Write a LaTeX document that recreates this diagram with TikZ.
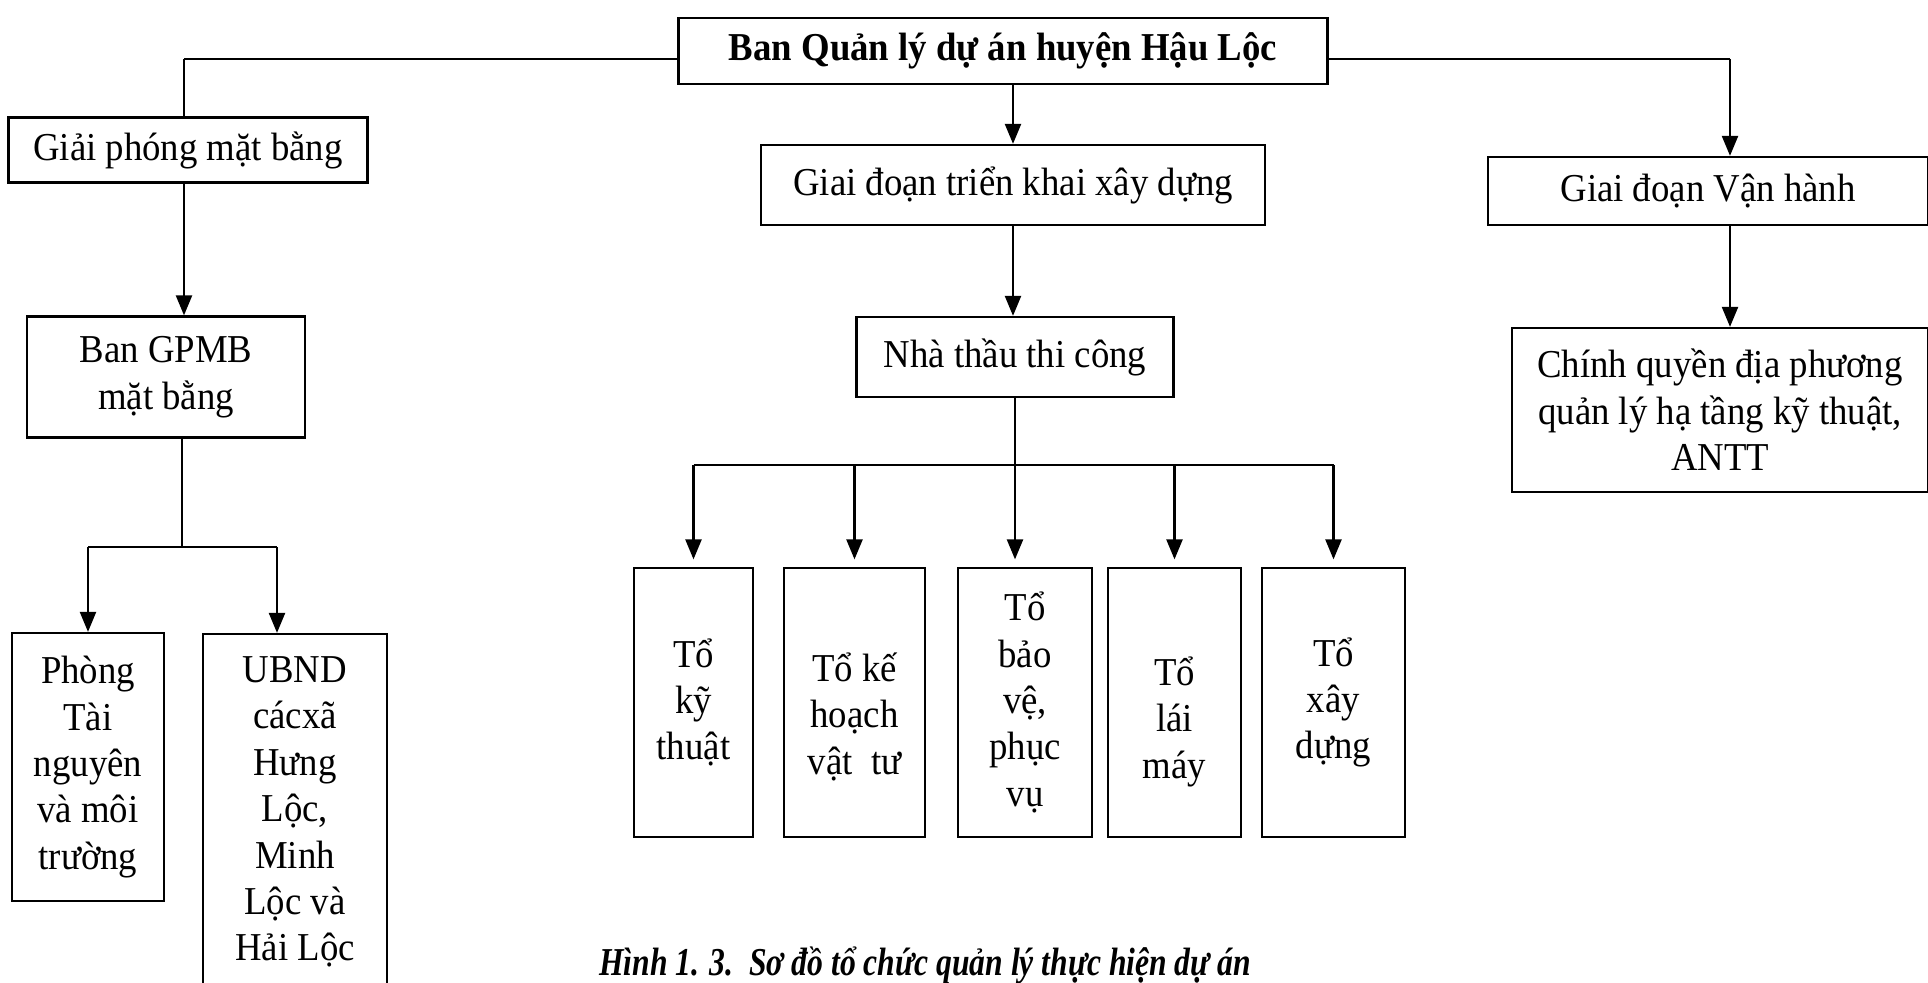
\documentclass[tikz,border=0pt]{standalone}
\usepackage{fontspec}
\setmainfont{Liberation Serif}[FakeStretch=0.93]
\newfontfamily\capfont{Liberation Serif}[FakeStretch=0.8]
\usepackage{tikz}
\usetikzlibrary{arrows.meta}

\begin{document}
\begin{tikzpicture}[x=0.02cm, y=-0.02cm,
    every node/.style={draw, rectangle, line width=1.3pt, align=center, inner sep=2pt,
        font=\fontsize{22.5}{26.4}\selectfont},
    flecha/.style={-{Triangle[length=0.4cm, width=0.32cm]}, line width=1.3pt},
    linea/.style={line width=1.3pt},
    fina/.style={line width=0.7pt}]
    \useasboundingbox (0,0) rectangle (1928,983);
    % Cajas
    \node[font=\fontsize{22.5}{26.4}\selectfont\bfseries, minimum width=12.98cm, minimum height=1.32cm] (ban) at (1003,51) {Ban Quản lý dự án huyện Hậu Lộc};
    \node[minimum width=7.18cm, minimum height=1.30cm] (gpmb) at (188,150) {Giải phóng mặt bằng};
    \node[minimum width=5.56cm, minimum height=2.42cm] (bangp) at (166,377) {Ban GPMB\\mặt bằng};
    \node[minimum width=3.04cm, minimum height=5.36cm] (phong) at (88,767) {Phòng\\Tài\\nguyên\\và môi\\trường};
    \node[minimum width=3.68cm, minimum height=7.12cm] (ubnd) at (295,812) {UBND\\cácxã\\Hưng\\Lộc,\\Minh\\Lộc và\\Hải Lộc};
    \node[minimum width=10.08cm, minimum height=1.60cm] (tk) at (1013,185) {Giai đoạn triển khai xây dựng};
    \node[minimum width=6.34cm, minimum height=1.60cm] (nt) at (1015,357) {Nhà thầu thi công};
    \node[minimum width=2.38cm, minimum height=5.38cm] (kt) at (693.5,702.5) {Tổ\\kỹ\\thuật};
    \node[minimum width=2.82cm, minimum height=5.38cm, text height=3.0cm] (kh) at (854.5,702.5) {Tổ kế\\hoạch\\vật\ \ tư};
    \node[minimum width=2.68cm, minimum height=5.38cm] (bv) at (1025,702.5) {Tổ\\bảo\\vệ,\\phục\\vụ};
    \node[minimum width=2.66cm, minimum height=5.38cm, text height=3.2cm] (lm) at (1174.5,702.5) {Tổ\\lái\\máy};
    \node[minimum width=2.86cm, minimum height=5.38cm] (xd) at (1333.5,702.5) {Tổ\\xây\\dựng};
    \node[minimum width=8.80cm, minimum height=1.36cm] (vh) at (1708,191) {Giai đoạn Vận hành};
    \node[minimum width=8.32cm, minimum height=3.28cm] (cq) at (1720,410) {Chính quyền địa phương\\quản lý hạ tầng kỹ thuật,\\ANTT};
    \node[draw=none, anchor=base, font=\fontsize{22.5}{26}\capfont\bfseries\itshape] (cap) at (925,975) {Hình 1. 3.\ \ Sơ đồ tổ chức quản lý thực hiện dự án};

    \coordinate (lt) at (184,59);
    \coordinate (rt) at (1730,59);
    \coordinate (gpbus) at (182,547);
    \coordinate (ubarr) at (277,547);
    \coordinate (bus) at (1015,465);

    % Flechas
    \draw[fina] (lt -| ban.west) -- (lt);
    \draw[fina] (rt -| ban.east) -- (rt);
    \draw[linea] (lt) -- (lt |- gpmb.north);
    \draw[flecha] (lt |- gpmb.south) -- (lt |- bangp.north);
    \draw[fina] (bangp.south -| gpbus) -- (gpbus);
    \draw[linea] (phong.north |- gpbus) -- (ubarr);
    \draw[flecha] (phong.north |- gpbus) -- (phong.north);
    \draw[flecha] (ubarr) -- (ubarr |- ubnd.north);
    \draw[flecha] (tk.north |- ban.south) -- (tk.north);
    \draw[flecha] (tk.south) -- (tk.south |- nt.north);
    \draw[linea] (kt.north |- bus) -- (xd.north |- bus);
    \draw[flecha, shorten >=0.15cm] (nt.south) -- (nt.south |- bv.north);
    \foreach \t in {kt,kh,lm,xd}
        \draw[flecha, shorten >=0.15cm] (\t.north |- bus) -- (\t.north);
    \draw[flecha] (rt) -- (rt |- vh.north);
    \draw[flecha] (rt |- vh.south) -- (rt |- cq.north);
\end{tikzpicture}
\end{document}
